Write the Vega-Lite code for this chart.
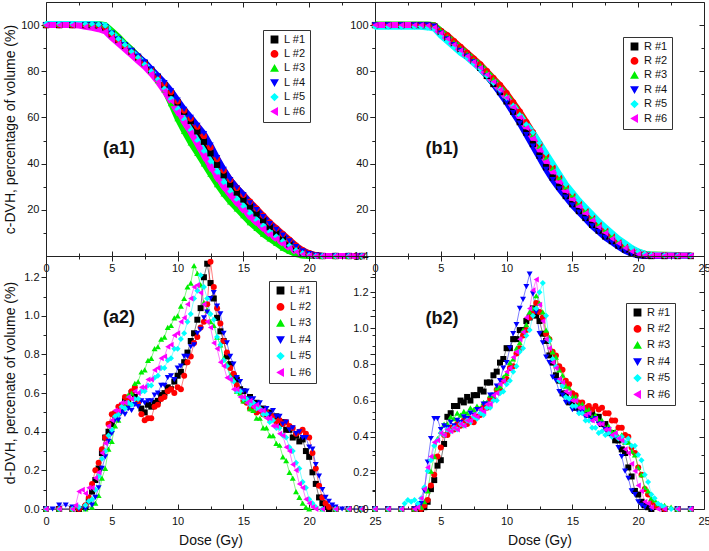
{
"$schema": "https://vega.github.io/schema/vega-lite/v6.json",
"padding": {"left": 3, "top": 1, "right": 0, "bottom": 2},
"background": "white",
"config": {
  "view": {"stroke": "#222", "strokeWidth": 1},
  "axis": {"domain": false, "grid": false, "tickColor": "#222", "tickWidth": 1, "labelFont": "Liberation Sans", "labelFontSize": 11, "labelColor": "#111", "titleFont": "Liberation Sans", "titleFontSize": 14, "titleFontWeight": "normal", "titleColor": "#111", "labelFlush": false, "labelOverlap": false, "labelBound": false},
  "legend": {"orient": "none", "symbolSize": 40, "symbolOpacity": 1, "labelOffset": 4, "symbolOffset": 2, "rowPadding": 3.4, "padding": 4, "strokeColor": "#333", "fillColor": "white", "labelFontSize": 11, "labelFont": "Liberation Sans", "labelColor": "#111"},
  "text": {"font": "Liberation Sans"}
},
"datasets": {
"a1": [
{"s":"L #1","x":0,"y":100},{"s":"L #1","x":1,"y":100},{"s":"L #1","x":2,"y":100},{"s":"L #1","x":3,"y":100},{"s":"L #1","x":3.5,"y":100},{"s":"L #1","x":4,"y":99.8},{"s":"L #1","x":4.5,"y":99},{"s":"L #1","x":5,"y":96},{"s":"L #1","x":5.5,"y":93.5},{"s":"L #1","x":6,"y":91},{"s":"L #1","x":6.5,"y":88.5},{"s":"L #1","x":7,"y":86},{"s":"L #1","x":7.5,"y":83.5},{"s":"L #1","x":8,"y":80.5},{"s":"L #1","x":8.5,"y":77.5},{"s":"L #1","x":9,"y":74},{"s":"L #1","x":9.5,"y":70.5},{"s":"L #1","x":10,"y":66.5},{"s":"L #1","x":10.5,"y":62.5},{"s":"L #1","x":11,"y":58.5},{"s":"L #1","x":11.5,"y":54},{"s":"L #1","x":12,"y":49.5},{"s":"L #1","x":12.5,"y":44.5},{"s":"L #1","x":13,"y":39.5},{"s":"L #1","x":13.5,"y":35},{"s":"L #1","x":14,"y":31},{"s":"L #1","x":14.5,"y":27.5},{"s":"L #1","x":15,"y":24.5},{"s":"L #1","x":15.5,"y":21.5},{"s":"L #1","x":16,"y":18.5},{"s":"L #1","x":16.5,"y":15.5},{"s":"L #1","x":17,"y":12.5},{"s":"L #1","x":17.5,"y":10},{"s":"L #1","x":18,"y":7.5},{"s":"L #1","x":18.5,"y":5},{"s":"L #1","x":19,"y":3},{"s":"L #1","x":19.5,"y":1.5},{"s":"L #1","x":20,"y":0.6},{"s":"L #1","x":20.5,"y":0.2},{"s":"L #1","x":21,"y":0},{"s":"L #1","x":22,"y":0},{"s":"L #1","x":23,"y":0},{"s":"L #1","x":24,"y":0},
{"s":"L #2","x":0,"y":100},{"s":"L #2","x":1,"y":100},{"s":"L #2","x":2,"y":100},{"s":"L #2","x":3,"y":100},{"s":"L #2","x":3.5,"y":100},{"s":"L #2","x":4,"y":99.8},{"s":"L #2","x":4.5,"y":99},{"s":"L #2","x":5,"y":96},{"s":"L #2","x":5.5,"y":93.5},{"s":"L #2","x":6,"y":91},{"s":"L #2","x":6.5,"y":88.5},{"s":"L #2","x":7,"y":86},{"s":"L #2","x":7.5,"y":83.5},{"s":"L #2","x":8,"y":80.5},{"s":"L #2","x":8.5,"y":77.5},{"s":"L #2","x":9,"y":74.5},{"s":"L #2","x":9.5,"y":71},{"s":"L #2","x":10,"y":67},{"s":"L #2","x":10.5,"y":63},{"s":"L #2","x":11,"y":59.5},{"s":"L #2","x":11.5,"y":56},{"s":"L #2","x":12,"y":52},{"s":"L #2","x":12.5,"y":47},{"s":"L #2","x":13,"y":42},{"s":"L #2","x":13.5,"y":37},{"s":"L #2","x":14,"y":33},{"s":"L #2","x":14.5,"y":29.5},{"s":"L #2","x":15,"y":26.5},{"s":"L #2","x":15.5,"y":23.5},{"s":"L #2","x":16,"y":20.5},{"s":"L #2","x":16.5,"y":17.5},{"s":"L #2","x":17,"y":14.5},{"s":"L #2","x":17.5,"y":12},{"s":"L #2","x":18,"y":9.5},{"s":"L #2","x":18.5,"y":7},{"s":"L #2","x":19,"y":4.5},{"s":"L #2","x":19.5,"y":2.5},{"s":"L #2","x":20,"y":1.2},{"s":"L #2","x":20.5,"y":0.4},{"s":"L #2","x":21,"y":0},{"s":"L #2","x":22,"y":0},{"s":"L #2","x":23,"y":0},{"s":"L #2","x":24,"y":0},
{"s":"L #3","x":0,"y":100.5},{"s":"L #3","x":1,"y":100.5},{"s":"L #3","x":2,"y":100.5},{"s":"L #3","x":3,"y":100.5},{"s":"L #3","x":3.5,"y":100.5},{"s":"L #3","x":4,"y":100.5},{"s":"L #3","x":4.5,"y":100},{"s":"L #3","x":5,"y":97.5},{"s":"L #3","x":5.5,"y":95},{"s":"L #3","x":6,"y":92},{"s":"L #3","x":6.5,"y":89.5},{"s":"L #3","x":7,"y":86.5},{"s":"L #3","x":7.5,"y":83.5},{"s":"L #3","x":8,"y":80},{"s":"L #3","x":8.5,"y":76},{"s":"L #3","x":9,"y":72},{"s":"L #3","x":9.5,"y":66},{"s":"L #3","x":10,"y":59.5},{"s":"L #3","x":10.5,"y":54},{"s":"L #3","x":11,"y":49},{"s":"L #3","x":11.5,"y":44.5},{"s":"L #3","x":12,"y":40},{"s":"L #3","x":12.5,"y":35.5},{"s":"L #3","x":13,"y":31},{"s":"L #3","x":13.5,"y":27},{"s":"L #3","x":14,"y":23.5},{"s":"L #3","x":14.5,"y":20.5},{"s":"L #3","x":15,"y":17.5},{"s":"L #3","x":15.5,"y":14.5},{"s":"L #3","x":16,"y":12},{"s":"L #3","x":16.5,"y":9.5},{"s":"L #3","x":17,"y":7.5},{"s":"L #3","x":17.5,"y":5.5},{"s":"L #3","x":18,"y":3.5},{"s":"L #3","x":18.5,"y":2},{"s":"L #3","x":19,"y":0.8},{"s":"L #3","x":19.5,"y":0.2},{"s":"L #3","x":20,"y":0},{"s":"L #3","x":21,"y":0},{"s":"L #3","x":22,"y":0},{"s":"L #3","x":23,"y":0},{"s":"L #3","x":24,"y":0},
{"s":"L #4","x":0,"y":100},{"s":"L #4","x":1,"y":100},{"s":"L #4","x":2,"y":100},{"s":"L #4","x":3,"y":100},{"s":"L #4","x":3.5,"y":100},{"s":"L #4","x":4,"y":99.8},{"s":"L #4","x":4.5,"y":99.3},{"s":"L #4","x":5,"y":96.5},{"s":"L #4","x":5.5,"y":94},{"s":"L #4","x":6,"y":91.5},{"s":"L #4","x":6.5,"y":89},{"s":"L #4","x":7,"y":86.5},{"s":"L #4","x":7.5,"y":84},{"s":"L #4","x":8,"y":81},{"s":"L #4","x":8.5,"y":78},{"s":"L #4","x":9,"y":75},{"s":"L #4","x":9.5,"y":71.5},{"s":"L #4","x":10,"y":67.5},{"s":"L #4","x":10.5,"y":63.5},{"s":"L #4","x":11,"y":60},{"s":"L #4","x":11.5,"y":56.5},{"s":"L #4","x":12,"y":53},{"s":"L #4","x":12.5,"y":48},{"s":"L #4","x":13,"y":42.5},{"s":"L #4","x":13.5,"y":37.5},{"s":"L #4","x":14,"y":33},{"s":"L #4","x":14.5,"y":29.5},{"s":"L #4","x":15,"y":26.5},{"s":"L #4","x":15.5,"y":23},{"s":"L #4","x":16,"y":20},{"s":"L #4","x":16.5,"y":17},{"s":"L #4","x":17,"y":14},{"s":"L #4","x":17.5,"y":11.5},{"s":"L #4","x":18,"y":9},{"s":"L #4","x":18.5,"y":6.5},{"s":"L #4","x":19,"y":4},{"s":"L #4","x":19.5,"y":2.2},{"s":"L #4","x":20,"y":1},{"s":"L #4","x":20.5,"y":0.3},{"s":"L #4","x":21,"y":0},{"s":"L #4","x":22,"y":0},{"s":"L #4","x":23,"y":0},{"s":"L #4","x":24,"y":0},
{"s":"L #5","x":0,"y":100.5},{"s":"L #5","x":1,"y":100.5},{"s":"L #5","x":2,"y":100.5},{"s":"L #5","x":3,"y":100.5},{"s":"L #5","x":3.5,"y":100.5},{"s":"L #5","x":4,"y":100.3},{"s":"L #5","x":4.5,"y":99.8},{"s":"L #5","x":5,"y":96.5},{"s":"L #5","x":5.5,"y":94},{"s":"L #5","x":6,"y":91.5},{"s":"L #5","x":6.5,"y":88.5},{"s":"L #5","x":7,"y":86},{"s":"L #5","x":7.5,"y":83},{"s":"L #5","x":8,"y":80},{"s":"L #5","x":8.5,"y":76.5},{"s":"L #5","x":9,"y":72.5},{"s":"L #5","x":9.5,"y":68},{"s":"L #5","x":10,"y":63.5},{"s":"L #5","x":10.5,"y":59},{"s":"L #5","x":11,"y":54.5},{"s":"L #5","x":11.5,"y":50},{"s":"L #5","x":12,"y":45.5},{"s":"L #5","x":12.5,"y":41},{"s":"L #5","x":13,"y":36.5},{"s":"L #5","x":13.5,"y":32},{"s":"L #5","x":14,"y":28},{"s":"L #5","x":14.5,"y":24.5},{"s":"L #5","x":15,"y":21.5},{"s":"L #5","x":15.5,"y":18.5},{"s":"L #5","x":16,"y":15.5},{"s":"L #5","x":16.5,"y":13},{"s":"L #5","x":17,"y":10.5},{"s":"L #5","x":17.5,"y":8.5},{"s":"L #5","x":18,"y":6.5},{"s":"L #5","x":18.5,"y":4.5},{"s":"L #5","x":19,"y":2.5},{"s":"L #5","x":19.5,"y":1.2},{"s":"L #5","x":20,"y":0.4},{"s":"L #5","x":20.5,"y":0},{"s":"L #5","x":21,"y":0},{"s":"L #5","x":22,"y":0},{"s":"L #5","x":23,"y":0},{"s":"L #5","x":24,"y":0},
{"s":"L #6","x":0,"y":100},{"s":"L #6","x":1,"y":100},{"s":"L #6","x":2,"y":100},{"s":"L #6","x":2.5,"y":99.8},{"s":"L #6","x":3,"y":99.3},{"s":"L #6","x":3.5,"y":98.8},{"s":"L #6","x":4,"y":98.2},{"s":"L #6","x":4.5,"y":97.3},{"s":"L #6","x":5,"y":94.5},{"s":"L #6","x":5.5,"y":92},{"s":"L #6","x":6,"y":89.5},{"s":"L #6","x":6.5,"y":87},{"s":"L #6","x":7,"y":84.5},{"s":"L #6","x":7.5,"y":82},{"s":"L #6","x":8,"y":79},{"s":"L #6","x":8.5,"y":75.5},{"s":"L #6","x":9,"y":71.5},{"s":"L #6","x":9.5,"y":67},{"s":"L #6","x":10,"y":62.5},{"s":"L #6","x":10.5,"y":58},{"s":"L #6","x":11,"y":53.5},{"s":"L #6","x":11.5,"y":48.5},{"s":"L #6","x":12,"y":43.5},{"s":"L #6","x":12.5,"y":38.5},{"s":"L #6","x":13,"y":34},{"s":"L #6","x":13.5,"y":30},{"s":"L #6","x":14,"y":26.5},{"s":"L #6","x":14.5,"y":23},{"s":"L #6","x":15,"y":20},{"s":"L #6","x":15.5,"y":17},{"s":"L #6","x":16,"y":14.5},{"s":"L #6","x":16.5,"y":12},{"s":"L #6","x":17,"y":9.5},{"s":"L #6","x":17.5,"y":7.5},{"s":"L #6","x":18,"y":5.5},{"s":"L #6","x":18.5,"y":3.5},{"s":"L #6","x":19,"y":1.8},{"s":"L #6","x":19.5,"y":0.8},{"s":"L #6","x":20,"y":0.3},{"s":"L #6","x":20.5,"y":0},{"s":"L #6","x":21,"y":0},{"s":"L #6","x":22,"y":0},{"s":"L #6","x":23,"y":0},{"s":"L #6","x":24,"y":0}
],
"b1": [
{"s":"R #1","x":0,"y":100},{"s":"R #1","x":1,"y":100},{"s":"R #1","x":2,"y":100},{"s":"R #1","x":3,"y":100},{"s":"R #1","x":3.5,"y":100},{"s":"R #1","x":4,"y":100},{"s":"R #1","x":4.5,"y":99.5},{"s":"R #1","x":5,"y":97},{"s":"R #1","x":5.5,"y":94.5},{"s":"R #1","x":6,"y":92},{"s":"R #1","x":6.5,"y":89.5},{"s":"R #1","x":7,"y":87},{"s":"R #1","x":7.5,"y":84.5},{"s":"R #1","x":8,"y":81.5},{"s":"R #1","x":8.5,"y":78},{"s":"R #1","x":9,"y":74.5},{"s":"R #1","x":9.5,"y":71},{"s":"R #1","x":10,"y":67},{"s":"R #1","x":10.5,"y":62.5},{"s":"R #1","x":11,"y":58},{"s":"R #1","x":11.5,"y":53.5},{"s":"R #1","x":12,"y":48.5},{"s":"R #1","x":12.5,"y":43.5},{"s":"R #1","x":13,"y":38.5},{"s":"R #1","x":13.5,"y":34},{"s":"R #1","x":14,"y":30},{"s":"R #1","x":14.5,"y":26},{"s":"R #1","x":15,"y":22.5},{"s":"R #1","x":15.5,"y":19.5},{"s":"R #1","x":16,"y":16.5},{"s":"R #1","x":16.5,"y":13.5},{"s":"R #1","x":17,"y":11},{"s":"R #1","x":17.5,"y":8.5},{"s":"R #1","x":18,"y":6.5},{"s":"R #1","x":18.5,"y":4.5},{"s":"R #1","x":19,"y":2.8},{"s":"R #1","x":19.5,"y":1.5},{"s":"R #1","x":20,"y":0.6},{"s":"R #1","x":20.5,"y":0.2},{"s":"R #1","x":21,"y":0},{"s":"R #1","x":22,"y":0},{"s":"R #1","x":23,"y":0},{"s":"R #1","x":24,"y":0},
{"s":"R #2","x":0,"y":100},{"s":"R #2","x":1,"y":100},{"s":"R #2","x":2,"y":100},{"s":"R #2","x":3,"y":100},{"s":"R #2","x":3.5,"y":100},{"s":"R #2","x":4,"y":100},{"s":"R #2","x":4.5,"y":99.8},{"s":"R #2","x":5,"y":97.5},{"s":"R #2","x":5.5,"y":95.5},{"s":"R #2","x":6,"y":93},{"s":"R #2","x":6.5,"y":90.5},{"s":"R #2","x":7,"y":88},{"s":"R #2","x":7.5,"y":85.5},{"s":"R #2","x":8,"y":83},{"s":"R #2","x":8.5,"y":80},{"s":"R #2","x":9,"y":77},{"s":"R #2","x":9.5,"y":74},{"s":"R #2","x":10,"y":70.5},{"s":"R #2","x":10.5,"y":66.5},{"s":"R #2","x":11,"y":62.5},{"s":"R #2","x":11.5,"y":58},{"s":"R #2","x":12,"y":53.5},{"s":"R #2","x":12.5,"y":48.5},{"s":"R #2","x":13,"y":43.5},{"s":"R #2","x":13.5,"y":38.5},{"s":"R #2","x":14,"y":34},{"s":"R #2","x":14.5,"y":30},{"s":"R #2","x":15,"y":26.5},{"s":"R #2","x":15.5,"y":23},{"s":"R #2","x":16,"y":20},{"s":"R #2","x":16.5,"y":17},{"s":"R #2","x":17,"y":14},{"s":"R #2","x":17.5,"y":11.5},{"s":"R #2","x":18,"y":9},{"s":"R #2","x":18.5,"y":6.5},{"s":"R #2","x":19,"y":4.5},{"s":"R #2","x":19.5,"y":2.8},{"s":"R #2","x":20,"y":1.5},{"s":"R #2","x":20.5,"y":0.8},{"s":"R #2","x":21,"y":0.4},{"s":"R #2","x":22,"y":0.3},{"s":"R #2","x":23,"y":0.2},{"s":"R #2","x":24,"y":0.2},
{"s":"R #3","x":0,"y":100.3},{"s":"R #3","x":1,"y":100.3},{"s":"R #3","x":2,"y":100.3},{"s":"R #3","x":3,"y":100.3},{"s":"R #3","x":3.5,"y":100.3},{"s":"R #3","x":4,"y":100.3},{"s":"R #3","x":4.5,"y":100},{"s":"R #3","x":5,"y":97.5},{"s":"R #3","x":5.5,"y":95},{"s":"R #3","x":6,"y":92.5},{"s":"R #3","x":6.5,"y":90},{"s":"R #3","x":7,"y":87.5},{"s":"R #3","x":7.5,"y":85},{"s":"R #3","x":8,"y":82.5},{"s":"R #3","x":8.5,"y":79.5},{"s":"R #3","x":9,"y":76.5},{"s":"R #3","x":9.5,"y":73},{"s":"R #3","x":10,"y":69.5},{"s":"R #3","x":10.5,"y":65.5},{"s":"R #3","x":11,"y":61.5},{"s":"R #3","x":11.5,"y":57},{"s":"R #3","x":12,"y":52.5},{"s":"R #3","x":12.5,"y":47.5},{"s":"R #3","x":13,"y":42.5},{"s":"R #3","x":13.5,"y":38},{"s":"R #3","x":14,"y":34},{"s":"R #3","x":14.5,"y":30},{"s":"R #3","x":15,"y":26.5},{"s":"R #3","x":15.5,"y":23},{"s":"R #3","x":16,"y":20},{"s":"R #3","x":16.5,"y":17},{"s":"R #3","x":17,"y":14},{"s":"R #3","x":17.5,"y":11.5},{"s":"R #3","x":18,"y":9},{"s":"R #3","x":18.5,"y":6.5},{"s":"R #3","x":19,"y":4.5},{"s":"R #3","x":19.5,"y":3},{"s":"R #3","x":20,"y":1.8},{"s":"R #3","x":20.5,"y":1},{"s":"R #3","x":21,"y":0.6},{"s":"R #3","x":22,"y":0.5},{"s":"R #3","x":23,"y":0.4},{"s":"R #3","x":24,"y":0.3},
{"s":"R #4","x":0,"y":100},{"s":"R #4","x":1,"y":100},{"s":"R #4","x":2,"y":100},{"s":"R #4","x":3,"y":100},{"s":"R #4","x":3.5,"y":100},{"s":"R #4","x":4,"y":100},{"s":"R #4","x":4.5,"y":99.5},{"s":"R #4","x":5,"y":96.5},{"s":"R #4","x":5.5,"y":94},{"s":"R #4","x":6,"y":91.5},{"s":"R #4","x":6.5,"y":89},{"s":"R #4","x":7,"y":86.5},{"s":"R #4","x":7.5,"y":84},{"s":"R #4","x":8,"y":81},{"s":"R #4","x":8.5,"y":78},{"s":"R #4","x":9,"y":74.5},{"s":"R #4","x":9.5,"y":70.5},{"s":"R #4","x":10,"y":66.5},{"s":"R #4","x":10.5,"y":62},{"s":"R #4","x":11,"y":57.5},{"s":"R #4","x":11.5,"y":52.5},{"s":"R #4","x":12,"y":47.5},{"s":"R #4","x":12.5,"y":42.5},{"s":"R #4","x":13,"y":37.5},{"s":"R #4","x":13.5,"y":33},{"s":"R #4","x":14,"y":29},{"s":"R #4","x":14.5,"y":25.5},{"s":"R #4","x":15,"y":22},{"s":"R #4","x":15.5,"y":19},{"s":"R #4","x":16,"y":16},{"s":"R #4","x":16.5,"y":13},{"s":"R #4","x":17,"y":10.5},{"s":"R #4","x":17.5,"y":8},{"s":"R #4","x":18,"y":6},{"s":"R #4","x":18.5,"y":4},{"s":"R #4","x":19,"y":2.2},{"s":"R #4","x":19.5,"y":1},{"s":"R #4","x":20,"y":0.2},{"s":"R #4","x":20.5,"y":0},{"s":"R #4","x":21,"y":0},{"s":"R #4","x":22,"y":0},{"s":"R #4","x":23,"y":0},{"s":"R #4","x":24,"y":0},
{"s":"R #5","x":0,"y":99.3},{"s":"R #5","x":1,"y":99.3},{"s":"R #5","x":2,"y":99.3},{"s":"R #5","x":3,"y":99.3},{"s":"R #5","x":3.5,"y":99.3},{"s":"R #5","x":4,"y":99},{"s":"R #5","x":4.5,"y":98.5},{"s":"R #5","x":5,"y":95.5},{"s":"R #5","x":5.5,"y":93},{"s":"R #5","x":6,"y":90.5},{"s":"R #5","x":6.5,"y":88},{"s":"R #5","x":7,"y":86},{"s":"R #5","x":7.5,"y":83.5},{"s":"R #5","x":8,"y":81},{"s":"R #5","x":8.5,"y":78},{"s":"R #5","x":9,"y":75},{"s":"R #5","x":9.5,"y":72},{"s":"R #5","x":10,"y":68.5},{"s":"R #5","x":10.5,"y":65},{"s":"R #5","x":11,"y":61},{"s":"R #5","x":11.5,"y":57},{"s":"R #5","x":12,"y":53.5},{"s":"R #5","x":12.5,"y":49},{"s":"R #5","x":13,"y":44.5},{"s":"R #5","x":13.5,"y":40},{"s":"R #5","x":14,"y":35.5},{"s":"R #5","x":14.5,"y":31},{"s":"R #5","x":15,"y":27.5},{"s":"R #5","x":15.5,"y":24},{"s":"R #5","x":16,"y":21},{"s":"R #5","x":16.5,"y":18},{"s":"R #5","x":17,"y":15},{"s":"R #5","x":17.5,"y":12.5},{"s":"R #5","x":18,"y":10},{"s":"R #5","x":18.5,"y":7.5},{"s":"R #5","x":19,"y":5.5},{"s":"R #5","x":19.5,"y":3.5},{"s":"R #5","x":20,"y":2},{"s":"R #5","x":20.5,"y":1},{"s":"R #5","x":21,"y":0.5},{"s":"R #5","x":22,"y":0.3},{"s":"R #5","x":23,"y":0.2},{"s":"R #5","x":24,"y":0.2},
{"s":"R #6","x":0,"y":100},{"s":"R #6","x":1,"y":100},{"s":"R #6","x":2,"y":100},{"s":"R #6","x":3,"y":100},{"s":"R #6","x":3.5,"y":100},{"s":"R #6","x":4,"y":99.8},{"s":"R #6","x":4.5,"y":99},{"s":"R #6","x":5,"y":96.5},{"s":"R #6","x":5.5,"y":94},{"s":"R #6","x":6,"y":91.5},{"s":"R #6","x":6.5,"y":89},{"s":"R #6","x":7,"y":86.5},{"s":"R #6","x":7.5,"y":84},{"s":"R #6","x":8,"y":81.5},{"s":"R #6","x":8.5,"y":78.5},{"s":"R #6","x":9,"y":75.5},{"s":"R #6","x":9.5,"y":72},{"s":"R #6","x":10,"y":68.5},{"s":"R #6","x":10.5,"y":64.5},{"s":"R #6","x":11,"y":60},{"s":"R #6","x":11.5,"y":55.5},{"s":"R #6","x":12,"y":51},{"s":"R #6","x":12.5,"y":46},{"s":"R #6","x":13,"y":41},{"s":"R #6","x":13.5,"y":36.5},{"s":"R #6","x":14,"y":32},{"s":"R #6","x":14.5,"y":28},{"s":"R #6","x":15,"y":24.5},{"s":"R #6","x":15.5,"y":21.5},{"s":"R #6","x":16,"y":18.5},{"s":"R #6","x":16.5,"y":15.5},{"s":"R #6","x":17,"y":12.5},{"s":"R #6","x":17.5,"y":10},{"s":"R #6","x":18,"y":7.5},{"s":"R #6","x":18.5,"y":5.5},{"s":"R #6","x":19,"y":3.5},{"s":"R #6","x":19.5,"y":2},{"s":"R #6","x":20,"y":0.8},{"s":"R #6","x":20.5,"y":0.3},{"s":"R #6","x":21,"y":0.2},{"s":"R #6","x":22,"y":0.2},{"s":"R #6","x":23,"y":0.2},{"s":"R #6","x":24,"y":0.2}
],
"a2": [
{"s":"L #1","x":0,"y":0},{"s":"L #1","x":1,"y":0},{"s":"L #1","x":2,"y":0},{"s":"L #1","x":2.5,"y":0},{"s":"L #1","x":3,"y":0.01},{"s":"L #1","x":3.25,"y":0.04},{"s":"L #1","x":3.5,"y":0.09},{"s":"L #1","x":3.75,"y":0.15},{"s":"L #1","x":4,"y":0.21},{"s":"L #1","x":4.25,"y":0.29},{"s":"L #1","x":4.5,"y":0.37},{"s":"L #1","x":4.75,"y":0.4},{"s":"L #1","x":5,"y":0.44},{"s":"L #1","x":5.25,"y":0.49},{"s":"L #1","x":5.5,"y":0.5},{"s":"L #1","x":5.75,"y":0.52},{"s":"L #1","x":6,"y":0.56},{"s":"L #1","x":6.25,"y":0.55},{"s":"L #1","x":6.5,"y":0.6},{"s":"L #1","x":6.75,"y":0.58},{"s":"L #1","x":7,"y":0.56},{"s":"L #1","x":7.25,"y":0.52},{"s":"L #1","x":7.5,"y":0.5},{"s":"L #1","x":7.75,"y":0.54},{"s":"L #1","x":8,"y":0.53},{"s":"L #1","x":8.25,"y":0.55},{"s":"L #1","x":8.5,"y":0.56},{"s":"L #1","x":8.75,"y":0.59},{"s":"L #1","x":9,"y":0.6},{"s":"L #1","x":9.25,"y":0.63},{"s":"L #1","x":9.5,"y":0.62},{"s":"L #1","x":9.75,"y":0.66},{"s":"L #1","x":10,"y":0.69},{"s":"L #1","x":10.25,"y":0.71},{"s":"L #1","x":10.5,"y":0.76},{"s":"L #1","x":10.75,"y":0.81},{"s":"L #1","x":11,"y":0.87},{"s":"L #1","x":11.25,"y":0.91},{"s":"L #1","x":11.5,"y":0.98},{"s":"L #1","x":11.75,"y":1.04},{"s":"L #1","x":12,"y":1.2},{"s":"L #1","x":12.25,"y":1.27},{"s":"L #1","x":12.5,"y":1.17},{"s":"L #1","x":12.75,"y":1.09},{"s":"L #1","x":13,"y":0.99},{"s":"L #1","x":13.25,"y":0.92},{"s":"L #1","x":13.5,"y":0.87},{"s":"L #1","x":13.75,"y":0.79},{"s":"L #1","x":14,"y":0.75},{"s":"L #1","x":14.25,"y":0.69},{"s":"L #1","x":14.5,"y":0.67},{"s":"L #1","x":14.75,"y":0.62},{"s":"L #1","x":15,"y":0.61},{"s":"L #1","x":15.25,"y":0.57},{"s":"L #1","x":15.5,"y":0.58},{"s":"L #1","x":15.75,"y":0.54},{"s":"L #1","x":16,"y":0.55},{"s":"L #1","x":16.25,"y":0.51},{"s":"L #1","x":16.5,"y":0.52},{"s":"L #1","x":16.75,"y":0.49},{"s":"L #1","x":17,"y":0.5},{"s":"L #1","x":17.25,"y":0.47},{"s":"L #1","x":17.5,"y":0.48},{"s":"L #1","x":17.75,"y":0.44},{"s":"L #1","x":18,"y":0.45},{"s":"L #1","x":18.25,"y":0.41},{"s":"L #1","x":18.5,"y":0.41},{"s":"L #1","x":18.75,"y":0.37},{"s":"L #1","x":19,"y":0.38},{"s":"L #1","x":19.25,"y":0.35},{"s":"L #1","x":19.5,"y":0.36},{"s":"L #1","x":19.75,"y":0.3},{"s":"L #1","x":20,"y":0.27},{"s":"L #1","x":20.25,"y":0.19},{"s":"L #1","x":20.5,"y":0.13},{"s":"L #1","x":20.75,"y":0.06},{"s":"L #1","x":21,"y":0.03},{"s":"L #1","x":21.25,"y":0.01},{"s":"L #1","x":21.5,"y":0},{"s":"L #1","x":22,"y":0},{"s":"L #1","x":23,"y":0},{"s":"L #1","x":24,"y":0},
{"s":"L #2","x":0,"y":0},{"s":"L #2","x":1,"y":0},{"s":"L #2","x":2,"y":0},{"s":"L #2","x":2.5,"y":0},{"s":"L #2","x":3,"y":0.02},{"s":"L #2","x":3.25,"y":0.06},{"s":"L #2","x":3.5,"y":0.13},{"s":"L #2","x":3.75,"y":0.2},{"s":"L #2","x":4,"y":0.24},{"s":"L #2","x":4.25,"y":0.31},{"s":"L #2","x":4.5,"y":0.37},{"s":"L #2","x":4.75,"y":0.44},{"s":"L #2","x":5,"y":0.49},{"s":"L #2","x":5.25,"y":0.5},{"s":"L #2","x":5.5,"y":0.53},{"s":"L #2","x":5.75,"y":0.54},{"s":"L #2","x":6,"y":0.58},{"s":"L #2","x":6.25,"y":0.57},{"s":"L #2","x":6.5,"y":0.61},{"s":"L #2","x":6.75,"y":0.63},{"s":"L #2","x":7,"y":0.55},{"s":"L #2","x":7.25,"y":0.49},{"s":"L #2","x":7.5,"y":0.46},{"s":"L #2","x":7.75,"y":0.47},{"s":"L #2","x":8,"y":0.47},{"s":"L #2","x":8.25,"y":0.53},{"s":"L #2","x":8.5,"y":0.54},{"s":"L #2","x":8.75,"y":0.57},{"s":"L #2","x":9,"y":0.58},{"s":"L #2","x":9.25,"y":0.61},{"s":"L #2","x":9.5,"y":0.62},{"s":"L #2","x":9.75,"y":0.6},{"s":"L #2","x":10,"y":0.63},{"s":"L #2","x":10.25,"y":0.62},{"s":"L #2","x":10.5,"y":0.69},{"s":"L #2","x":10.75,"y":0.76},{"s":"L #2","x":11,"y":0.79},{"s":"L #2","x":11.25,"y":0.86},{"s":"L #2","x":11.5,"y":0.89},{"s":"L #2","x":11.75,"y":0.94},{"s":"L #2","x":12,"y":0.97},{"s":"L #2","x":12.25,"y":1.06},{"s":"L #2","x":12.5,"y":1.28},{"s":"L #2","x":12.75,"y":1.15},{"s":"L #2","x":13,"y":1.04},{"s":"L #2","x":13.25,"y":0.96},{"s":"L #2","x":13.5,"y":0.87},{"s":"L #2","x":13.75,"y":0.81},{"s":"L #2","x":14,"y":0.73},{"s":"L #2","x":14.25,"y":0.7},{"s":"L #2","x":14.5,"y":0.64},{"s":"L #2","x":14.75,"y":0.61},{"s":"L #2","x":15,"y":0.56},{"s":"L #2","x":15.25,"y":0.55},{"s":"L #2","x":15.5,"y":0.52},{"s":"L #2","x":15.75,"y":0.53},{"s":"L #2","x":16,"y":0.5},{"s":"L #2","x":16.25,"y":0.51},{"s":"L #2","x":16.5,"y":0.49},{"s":"L #2","x":16.75,"y":0.5},{"s":"L #2","x":17,"y":0.47},{"s":"L #2","x":17.25,"y":0.48},{"s":"L #2","x":17.5,"y":0.45},{"s":"L #2","x":17.75,"y":0.46},{"s":"L #2","x":18,"y":0.44},{"s":"L #2","x":18.25,"y":0.45},{"s":"L #2","x":18.5,"y":0.43},{"s":"L #2","x":18.75,"y":0.42},{"s":"L #2","x":19,"y":0.39},{"s":"L #2","x":19.25,"y":0.4},{"s":"L #2","x":19.5,"y":0.41},{"s":"L #2","x":19.75,"y":0.39},{"s":"L #2","x":20,"y":0.37},{"s":"L #2","x":20.25,"y":0.29},{"s":"L #2","x":20.5,"y":0.21},{"s":"L #2","x":20.75,"y":0.12},{"s":"L #2","x":21,"y":0.06},{"s":"L #2","x":21.25,"y":0.03},{"s":"L #2","x":21.5,"y":0.01},{"s":"L #2","x":22,"y":0},{"s":"L #2","x":23,"y":0},{"s":"L #2","x":24,"y":0},
{"s":"L #3","x":0,"y":0},{"s":"L #3","x":1,"y":0},{"s":"L #3","x":2,"y":0},{"s":"L #3","x":3,"y":0},{"s":"L #3","x":3.5,"y":0.01},{"s":"L #3","x":3.75,"y":0.03},{"s":"L #3","x":4,"y":0.07},{"s":"L #3","x":4.25,"y":0.16},{"s":"L #3","x":4.5,"y":0.21},{"s":"L #3","x":4.75,"y":0.31},{"s":"L #3","x":5,"y":0.35},{"s":"L #3","x":5.25,"y":0.43},{"s":"L #3","x":5.5,"y":0.46},{"s":"L #3","x":5.75,"y":0.53},{"s":"L #3","x":6,"y":0.55},{"s":"L #3","x":6.25,"y":0.59},{"s":"L #3","x":6.5,"y":0.6},{"s":"L #3","x":6.75,"y":0.65},{"s":"L #3","x":7,"y":0.66},{"s":"L #3","x":7.25,"y":0.71},{"s":"L #3","x":7.5,"y":0.72},{"s":"L #3","x":7.75,"y":0.77},{"s":"L #3","x":8,"y":0.78},{"s":"L #3","x":8.25,"y":0.83},{"s":"L #3","x":8.5,"y":0.84},{"s":"L #3","x":8.75,"y":0.88},{"s":"L #3","x":9,"y":0.89},{"s":"L #3","x":9.25,"y":0.94},{"s":"L #3","x":9.5,"y":0.95},{"s":"L #3","x":9.75,"y":0.99},{"s":"L #3","x":10,"y":1.0},{"s":"L #3","x":10.25,"y":1.05},{"s":"L #3","x":10.5,"y":1.09},{"s":"L #3","x":10.75,"y":1.15},{"s":"L #3","x":11,"y":1.17},{"s":"L #3","x":11.25,"y":1.26},{"s":"L #3","x":11.5,"y":1.22},{"s":"L #3","x":11.75,"y":1.16},{"s":"L #3","x":12,"y":1.07},{"s":"L #3","x":12.25,"y":1.03},{"s":"L #3","x":12.5,"y":0.97},{"s":"L #3","x":12.75,"y":0.95},{"s":"L #3","x":13,"y":0.89},{"s":"L #3","x":13.25,"y":0.85},{"s":"L #3","x":13.5,"y":0.78},{"s":"L #3","x":13.75,"y":0.75},{"s":"L #3","x":14,"y":0.69},{"s":"L #3","x":14.25,"y":0.67},{"s":"L #3","x":14.5,"y":0.61},{"s":"L #3","x":14.75,"y":0.6},{"s":"L #3","x":15,"y":0.56},{"s":"L #3","x":15.25,"y":0.56},{"s":"L #3","x":15.5,"y":0.52},{"s":"L #3","x":15.75,"y":0.51},{"s":"L #3","x":16,"y":0.47},{"s":"L #3","x":16.25,"y":0.47},{"s":"L #3","x":16.5,"y":0.42},{"s":"L #3","x":16.75,"y":0.42},{"s":"L #3","x":17,"y":0.38},{"s":"L #3","x":17.25,"y":0.38},{"s":"L #3","x":17.5,"y":0.34},{"s":"L #3","x":17.75,"y":0.33},{"s":"L #3","x":18,"y":0.27},{"s":"L #3","x":18.25,"y":0.25},{"s":"L #3","x":18.5,"y":0.19},{"s":"L #3","x":18.75,"y":0.16},{"s":"L #3","x":19,"y":0.09},{"s":"L #3","x":19.25,"y":0.06},{"s":"L #3","x":19.5,"y":0.03},{"s":"L #3","x":19.75,"y":0.01},{"s":"L #3","x":20,"y":0},{"s":"L #3","x":21,"y":0},{"s":"L #3","x":22,"y":0},{"s":"L #3","x":23,"y":0},{"s":"L #3","x":24,"y":0},
{"s":"L #4","x":0,"y":0},{"s":"L #4","x":0.5,"y":0},{"s":"L #4","x":1,"y":0.02},{"s":"L #4","x":1.5,"y":0.02},{"s":"L #4","x":2,"y":0.01},{"s":"L #4","x":2.5,"y":0},{"s":"L #4","x":3,"y":0},{"s":"L #4","x":3.5,"y":0.02},{"s":"L #4","x":3.75,"y":0.06},{"s":"L #4","x":4,"y":0.11},{"s":"L #4","x":4.25,"y":0.21},{"s":"L #4","x":4.5,"y":0.27},{"s":"L #4","x":4.75,"y":0.35},{"s":"L #4","x":5,"y":0.39},{"s":"L #4","x":5.25,"y":0.46},{"s":"L #4","x":5.5,"y":0.46},{"s":"L #4","x":5.75,"y":0.5},{"s":"L #4","x":6,"y":0.49},{"s":"L #4","x":6.25,"y":0.52},{"s":"L #4","x":6.5,"y":0.51},{"s":"L #4","x":6.75,"y":0.54},{"s":"L #4","x":7,"y":0.53},{"s":"L #4","x":7.25,"y":0.56},{"s":"L #4","x":7.5,"y":0.55},{"s":"L #4","x":7.75,"y":0.56},{"s":"L #4","x":8,"y":0.56},{"s":"L #4","x":8.25,"y":0.59},{"s":"L #4","x":8.5,"y":0.6},{"s":"L #4","x":8.75,"y":0.64},{"s":"L #4","x":9,"y":0.64},{"s":"L #4","x":9.25,"y":0.68},{"s":"L #4","x":9.5,"y":0.69},{"s":"L #4","x":9.75,"y":0.67},{"s":"L #4","x":10,"y":0.73},{"s":"L #4","x":10.25,"y":0.74},{"s":"L #4","x":10.5,"y":0.79},{"s":"L #4","x":10.75,"y":0.79},{"s":"L #4","x":11,"y":0.84},{"s":"L #4","x":11.25,"y":0.85},{"s":"L #4","x":11.5,"y":0.91},{"s":"L #4","x":11.75,"y":0.93},{"s":"L #4","x":12,"y":0.99},{"s":"L #4","x":12.25,"y":1.02},{"s":"L #4","x":12.5,"y":1.09},{"s":"L #4","x":12.75,"y":1.12},{"s":"L #4","x":13,"y":1.05},{"s":"L #4","x":13.25,"y":1.01},{"s":"L #4","x":13.5,"y":0.91},{"s":"L #4","x":13.75,"y":0.86},{"s":"L #4","x":14,"y":0.79},{"s":"L #4","x":14.25,"y":0.75},{"s":"L #4","x":14.5,"y":0.68},{"s":"L #4","x":14.75,"y":0.66},{"s":"L #4","x":15,"y":0.61},{"s":"L #4","x":15.25,"y":0.61},{"s":"L #4","x":15.5,"y":0.57},{"s":"L #4","x":15.75,"y":0.57},{"s":"L #4","x":16,"y":0.54},{"s":"L #4","x":16.25,"y":0.55},{"s":"L #4","x":16.5,"y":0.51},{"s":"L #4","x":16.75,"y":0.52},{"s":"L #4","x":17,"y":0.49},{"s":"L #4","x":17.25,"y":0.51},{"s":"L #4","x":17.5,"y":0.48},{"s":"L #4","x":17.75,"y":0.48},{"s":"L #4","x":18,"y":0.44},{"s":"L #4","x":18.25,"y":0.45},{"s":"L #4","x":18.5,"y":0.41},{"s":"L #4","x":18.75,"y":0.42},{"s":"L #4","x":19,"y":0.39},{"s":"L #4","x":19.25,"y":0.4},{"s":"L #4","x":19.5,"y":0.37},{"s":"L #4","x":19.75,"y":0.37},{"s":"L #4","x":20,"y":0.32},{"s":"L #4","x":20.25,"y":0.31},{"s":"L #4","x":20.5,"y":0.23},{"s":"L #4","x":20.75,"y":0.17},{"s":"L #4","x":21,"y":0.1},{"s":"L #4","x":21.25,"y":0.06},{"s":"L #4","x":21.5,"y":0.04},{"s":"L #4","x":21.75,"y":0.02},{"s":"L #4","x":22,"y":0.01},{"s":"L #4","x":22.5,"y":0},{"s":"L #4","x":23,"y":0},{"s":"L #4","x":24,"y":0},
{"s":"L #5","x":0,"y":0},{"s":"L #5","x":1,"y":0},{"s":"L #5","x":2,"y":0},{"s":"L #5","x":2.5,"y":0.01},{"s":"L #5","x":3,"y":0.02},{"s":"L #5","x":3.25,"y":0.04},{"s":"L #5","x":3.5,"y":0.05},{"s":"L #5","x":3.75,"y":0.1},{"s":"L #5","x":4,"y":0.17},{"s":"L #5","x":4.25,"y":0.26},{"s":"L #5","x":4.5,"y":0.3},{"s":"L #5","x":4.75,"y":0.38},{"s":"L #5","x":5,"y":0.41},{"s":"L #5","x":5.25,"y":0.48},{"s":"L #5","x":5.5,"y":0.49},{"s":"L #5","x":5.75,"y":0.53},{"s":"L #5","x":6,"y":0.52},{"s":"L #5","x":6.25,"y":0.55},{"s":"L #5","x":6.5,"y":0.54},{"s":"L #5","x":6.75,"y":0.57},{"s":"L #5","x":7,"y":0.57},{"s":"L #5","x":7.25,"y":0.61},{"s":"L #5","x":7.5,"y":0.61},{"s":"L #5","x":7.75,"y":0.64},{"s":"L #5","x":8,"y":0.64},{"s":"L #5","x":8.25,"y":0.68},{"s":"L #5","x":8.5,"y":0.69},{"s":"L #5","x":8.75,"y":0.73},{"s":"L #5","x":9,"y":0.73},{"s":"L #5","x":9.25,"y":0.77},{"s":"L #5","x":9.5,"y":0.78},{"s":"L #5","x":9.75,"y":0.83},{"s":"L #5","x":10,"y":0.83},{"s":"L #5","x":10.25,"y":0.88},{"s":"L #5","x":10.5,"y":0.91},{"s":"L #5","x":10.75,"y":0.97},{"s":"L #5","x":11,"y":1.01},{"s":"L #5","x":11.25,"y":1.09},{"s":"L #5","x":11.5,"y":1.13},{"s":"L #5","x":11.75,"y":1.21},{"s":"L #5","x":12,"y":1.15},{"s":"L #5","x":12.25,"y":1.09},{"s":"L #5","x":12.5,"y":1.01},{"s":"L #5","x":12.75,"y":0.98},{"s":"L #5","x":13,"y":0.89},{"s":"L #5","x":13.25,"y":0.85},{"s":"L #5","x":13.5,"y":0.77},{"s":"L #5","x":13.75,"y":0.74},{"s":"L #5","x":14,"y":0.68},{"s":"L #5","x":14.25,"y":0.66},{"s":"L #5","x":14.5,"y":0.61},{"s":"L #5","x":14.75,"y":0.61},{"s":"L #5","x":15,"y":0.57},{"s":"L #5","x":15.25,"y":0.57},{"s":"L #5","x":15.5,"y":0.54},{"s":"L #5","x":15.75,"y":0.55},{"s":"L #5","x":16,"y":0.52},{"s":"L #5","x":16.25,"y":0.52},{"s":"L #5","x":16.5,"y":0.49},{"s":"L #5","x":16.75,"y":0.49},{"s":"L #5","x":17,"y":0.45},{"s":"L #5","x":17.25,"y":0.46},{"s":"L #5","x":17.5,"y":0.42},{"s":"L #5","x":17.75,"y":0.42},{"s":"L #5","x":18,"y":0.38},{"s":"L #5","x":18.25,"y":0.37},{"s":"L #5","x":18.5,"y":0.32},{"s":"L #5","x":18.75,"y":0.3},{"s":"L #5","x":19,"y":0.24},{"s":"L #5","x":19.25,"y":0.21},{"s":"L #5","x":19.5,"y":0.14},{"s":"L #5","x":19.75,"y":0.11},{"s":"L #5","x":20,"y":0.05},{"s":"L #5","x":20.25,"y":0.03},{"s":"L #5","x":20.5,"y":0.01},{"s":"L #5","x":21,"y":0},{"s":"L #5","x":22,"y":0},{"s":"L #5","x":23,"y":0},{"s":"L #5","x":24,"y":0},
{"s":"L #6","x":0,"y":0},{"s":"L #6","x":1,"y":0},{"s":"L #6","x":2,"y":0},{"s":"L #6","x":2.25,"y":0.02},{"s":"L #6","x":2.5,"y":0.09},{"s":"L #6","x":2.75,"y":0.1},{"s":"L #6","x":3,"y":0.08},{"s":"L #6","x":3.25,"y":0.11},{"s":"L #6","x":3.5,"y":0.11},{"s":"L #6","x":3.75,"y":0.16},{"s":"L #6","x":4,"y":0.19},{"s":"L #6","x":4.25,"y":0.29},{"s":"L #6","x":4.5,"y":0.34},{"s":"L #6","x":4.75,"y":0.43},{"s":"L #6","x":5,"y":0.46},{"s":"L #6","x":5.25,"y":0.51},{"s":"L #6","x":5.5,"y":0.51},{"s":"L #6","x":5.75,"y":0.55},{"s":"L #6","x":6,"y":0.55},{"s":"L #6","x":6.25,"y":0.58},{"s":"L #6","x":6.5,"y":0.57},{"s":"L #6","x":6.75,"y":0.61},{"s":"L #6","x":7,"y":0.6},{"s":"L #6","x":7.25,"y":0.63},{"s":"L #6","x":7.5,"y":0.63},{"s":"L #6","x":7.75,"y":0.67},{"s":"L #6","x":8,"y":0.67},{"s":"L #6","x":8.25,"y":0.72},{"s":"L #6","x":8.5,"y":0.73},{"s":"L #6","x":8.75,"y":0.78},{"s":"L #6","x":9,"y":0.79},{"s":"L #6","x":9.25,"y":0.84},{"s":"L #6","x":9.5,"y":0.85},{"s":"L #6","x":9.75,"y":0.9},{"s":"L #6","x":10,"y":0.91},{"s":"L #6","x":10.25,"y":0.97},{"s":"L #6","x":10.5,"y":0.99},{"s":"L #6","x":10.75,"y":1.06},{"s":"L #6","x":11,"y":1.09},{"s":"L #6","x":11.25,"y":1.15},{"s":"L #6","x":11.5,"y":1.16},{"s":"L #6","x":11.75,"y":1.12},{"s":"L #6","x":12,"y":1.06},{"s":"L #6","x":12.25,"y":0.97},{"s":"L #6","x":12.5,"y":0.94},{"s":"L #6","x":12.75,"y":0.86},{"s":"L #6","x":13,"y":0.83},{"s":"L #6","x":13.25,"y":0.76},{"s":"L #6","x":13.5,"y":0.74},{"s":"L #6","x":13.75,"y":0.68},{"s":"L #6","x":14,"y":0.67},{"s":"L #6","x":14.25,"y":0.62},{"s":"L #6","x":14.5,"y":0.62},{"s":"L #6","x":14.75,"y":0.58},{"s":"L #6","x":15,"y":0.58},{"s":"L #6","x":15.25,"y":0.55},{"s":"L #6","x":15.5,"y":0.56},{"s":"L #6","x":15.75,"y":0.53},{"s":"L #6","x":16,"y":0.54},{"s":"L #6","x":16.25,"y":0.51},{"s":"L #6","x":16.5,"y":0.51},{"s":"L #6","x":16.75,"y":0.47},{"s":"L #6","x":17,"y":0.47},{"s":"L #6","x":17.25,"y":0.43},{"s":"L #6","x":17.5,"y":0.43},{"s":"L #6","x":17.75,"y":0.39},{"s":"L #6","x":18,"y":0.38},{"s":"L #6","x":18.25,"y":0.32},{"s":"L #6","x":18.5,"y":0.3},{"s":"L #6","x":18.75,"y":0.23},{"s":"L #6","x":19,"y":0.2},{"s":"L #6","x":19.25,"y":0.13},{"s":"L #6","x":19.5,"y":0.11},{"s":"L #6","x":19.75,"y":0.05},{"s":"L #6","x":20,"y":0.03},{"s":"L #6","x":20.25,"y":0.01},{"s":"L #6","x":20.5,"y":0},{"s":"L #6","x":21,"y":0},{"s":"L #6","x":22,"y":0},{"s":"L #6","x":23,"y":0},{"s":"L #6","x":24,"y":0}
],
"b2": [
{"s":"R #1","x":0,"y":0},{"s":"R #1","x":1,"y":0},{"s":"R #1","x":2,"y":0},{"s":"R #1","x":3,"y":0},{"s":"R #1","x":3.5,"y":0},{"s":"R #1","x":3.75,"y":0.01},{"s":"R #1","x":4,"y":0.04},{"s":"R #1","x":4.25,"y":0.11},{"s":"R #1","x":4.5,"y":0.16},{"s":"R #1","x":4.75,"y":0.24},{"s":"R #1","x":5,"y":0.27},{"s":"R #1","x":5.25,"y":0.36},{"s":"R #1","x":5.5,"y":0.51},{"s":"R #1","x":5.75,"y":0.53},{"s":"R #1","x":6,"y":0.57},{"s":"R #1","x":6.25,"y":0.57},{"s":"R #1","x":6.5,"y":0.6},{"s":"R #1","x":6.75,"y":0.59},{"s":"R #1","x":7,"y":0.62},{"s":"R #1","x":7.25,"y":0.6},{"s":"R #1","x":7.5,"y":0.63},{"s":"R #1","x":7.75,"y":0.63},{"s":"R #1","x":8,"y":0.66},{"s":"R #1","x":8.25,"y":0.65},{"s":"R #1","x":8.5,"y":0.7},{"s":"R #1","x":8.75,"y":0.7},{"s":"R #1","x":9,"y":0.74},{"s":"R #1","x":9.25,"y":0.76},{"s":"R #1","x":9.5,"y":0.81},{"s":"R #1","x":9.75,"y":0.83},{"s":"R #1","x":10,"y":0.89},{"s":"R #1","x":10.25,"y":0.89},{"s":"R #1","x":10.5,"y":0.94},{"s":"R #1","x":10.75,"y":0.94},{"s":"R #1","x":11,"y":0.99},{"s":"R #1","x":11.25,"y":0.99},{"s":"R #1","x":11.5,"y":1.04},{"s":"R #1","x":11.75,"y":1.06},{"s":"R #1","x":12,"y":1.11},{"s":"R #1","x":12.25,"y":1.07},{"s":"R #1","x":12.5,"y":1.04},{"s":"R #1","x":12.75,"y":0.97},{"s":"R #1","x":13,"y":0.93},{"s":"R #1","x":13.25,"y":0.85},{"s":"R #1","x":13.5,"y":0.81},{"s":"R #1","x":13.75,"y":0.74},{"s":"R #1","x":14,"y":0.71},{"s":"R #1","x":14.25,"y":0.64},{"s":"R #1","x":14.5,"y":0.63},{"s":"R #1","x":14.75,"y":0.59},{"s":"R #1","x":15,"y":0.59},{"s":"R #1","x":15.25,"y":0.56},{"s":"R #1","x":15.5,"y":0.57},{"s":"R #1","x":15.75,"y":0.54},{"s":"R #1","x":16,"y":0.55},{"s":"R #1","x":16.25,"y":0.52},{"s":"R #1","x":16.5,"y":0.53},{"s":"R #1","x":16.75,"y":0.51},{"s":"R #1","x":17,"y":0.51},{"s":"R #1","x":17.25,"y":0.47},{"s":"R #1","x":17.5,"y":0.47},{"s":"R #1","x":17.75,"y":0.42},{"s":"R #1","x":18,"y":0.42},{"s":"R #1","x":18.25,"y":0.38},{"s":"R #1","x":18.5,"y":0.38},{"s":"R #1","x":18.75,"y":0.33},{"s":"R #1","x":19,"y":0.31},{"s":"R #1","x":19.25,"y":0.23},{"s":"R #1","x":19.5,"y":0.18},{"s":"R #1","x":19.75,"y":0.1},{"s":"R #1","x":20,"y":0.08},{"s":"R #1","x":20.25,"y":0.04},{"s":"R #1","x":20.5,"y":0.02},{"s":"R #1","x":20.75,"y":0.01},{"s":"R #1","x":21,"y":0},{"s":"R #1","x":22,"y":0},{"s":"R #1","x":23,"y":0},{"s":"R #1","x":24,"y":0},
{"s":"R #2","x":0,"y":0},{"s":"R #2","x":1,"y":0},{"s":"R #2","x":2,"y":0},{"s":"R #2","x":3,"y":0},{"s":"R #2","x":3.5,"y":0},{"s":"R #2","x":3.75,"y":0.02},{"s":"R #2","x":4,"y":0.05},{"s":"R #2","x":4.25,"y":0.13},{"s":"R #2","x":4.5,"y":0.19},{"s":"R #2","x":4.75,"y":0.29},{"s":"R #2","x":5,"y":0.34},{"s":"R #2","x":5.25,"y":0.41},{"s":"R #2","x":5.5,"y":0.41},{"s":"R #2","x":5.75,"y":0.45},{"s":"R #2","x":6,"y":0.44},{"s":"R #2","x":6.25,"y":0.47},{"s":"R #2","x":6.5,"y":0.46},{"s":"R #2","x":6.75,"y":0.49},{"s":"R #2","x":7,"y":0.47},{"s":"R #2","x":7.25,"y":0.5},{"s":"R #2","x":7.5,"y":0.48},{"s":"R #2","x":7.75,"y":0.51},{"s":"R #2","x":8,"y":0.52},{"s":"R #2","x":8.25,"y":0.56},{"s":"R #2","x":8.5,"y":0.56},{"s":"R #2","x":8.75,"y":0.61},{"s":"R #2","x":9,"y":0.61},{"s":"R #2","x":9.25,"y":0.66},{"s":"R #2","x":9.5,"y":0.66},{"s":"R #2","x":9.75,"y":0.71},{"s":"R #2","x":10,"y":0.72},{"s":"R #2","x":10.25,"y":0.78},{"s":"R #2","x":10.5,"y":0.79},{"s":"R #2","x":10.75,"y":0.86},{"s":"R #2","x":11,"y":0.89},{"s":"R #2","x":11.25,"y":0.96},{"s":"R #2","x":11.5,"y":0.99},{"s":"R #2","x":11.75,"y":1.06},{"s":"R #2","x":12,"y":1.09},{"s":"R #2","x":12.25,"y":1.14},{"s":"R #2","x":12.5,"y":1.09},{"s":"R #2","x":12.75,"y":1.06},{"s":"R #2","x":13,"y":0.97},{"s":"R #2","x":13.25,"y":0.94},{"s":"R #2","x":13.5,"y":0.87},{"s":"R #2","x":13.75,"y":0.85},{"s":"R #2","x":14,"y":0.79},{"s":"R #2","x":14.25,"y":0.77},{"s":"R #2","x":14.5,"y":0.71},{"s":"R #2","x":14.75,"y":0.69},{"s":"R #2","x":15,"y":0.64},{"s":"R #2","x":15.25,"y":0.63},{"s":"R #2","x":15.5,"y":0.59},{"s":"R #2","x":15.75,"y":0.59},{"s":"R #2","x":16,"y":0.56},{"s":"R #2","x":16.25,"y":0.57},{"s":"R #2","x":16.5,"y":0.55},{"s":"R #2","x":16.75,"y":0.57},{"s":"R #2","x":17,"y":0.55},{"s":"R #2","x":17.25,"y":0.56},{"s":"R #2","x":17.5,"y":0.53},{"s":"R #2","x":17.75,"y":0.53},{"s":"R #2","x":18,"y":0.49},{"s":"R #2","x":18.25,"y":0.49},{"s":"R #2","x":18.5,"y":0.45},{"s":"R #2","x":18.75,"y":0.45},{"s":"R #2","x":19,"y":0.41},{"s":"R #2","x":19.25,"y":0.4},{"s":"R #2","x":19.5,"y":0.34},{"s":"R #2","x":19.75,"y":0.31},{"s":"R #2","x":20,"y":0.23},{"s":"R #2","x":20.25,"y":0.19},{"s":"R #2","x":20.5,"y":0.11},{"s":"R #2","x":20.75,"y":0.08},{"s":"R #2","x":21,"y":0.04},{"s":"R #2","x":21.25,"y":0.02},{"s":"R #2","x":21.5,"y":0.01},{"s":"R #2","x":22,"y":0},{"s":"R #2","x":23,"y":0},{"s":"R #2","x":24,"y":0},
{"s":"R #3","x":0,"y":0},{"s":"R #3","x":1,"y":0},{"s":"R #3","x":2,"y":0},{"s":"R #3","x":3,"y":0},{"s":"R #3","x":3.5,"y":0.01},{"s":"R #3","x":3.75,"y":0.04},{"s":"R #3","x":4,"y":0.1},{"s":"R #3","x":4.25,"y":0.21},{"s":"R #3","x":4.5,"y":0.29},{"s":"R #3","x":4.75,"y":0.39},{"s":"R #3","x":5,"y":0.43},{"s":"R #3","x":5.25,"y":0.47},{"s":"R #3","x":5.5,"y":0.47},{"s":"R #3","x":5.75,"y":0.51},{"s":"R #3","x":6,"y":0.5},{"s":"R #3","x":6.25,"y":0.53},{"s":"R #3","x":6.5,"y":0.52},{"s":"R #3","x":6.75,"y":0.54},{"s":"R #3","x":7,"y":0.53},{"s":"R #3","x":7.25,"y":0.56},{"s":"R #3","x":7.5,"y":0.55},{"s":"R #3","x":7.75,"y":0.57},{"s":"R #3","x":8,"y":0.56},{"s":"R #3","x":8.25,"y":0.59},{"s":"R #3","x":8.5,"y":0.59},{"s":"R #3","x":8.75,"y":0.63},{"s":"R #3","x":9,"y":0.63},{"s":"R #3","x":9.25,"y":0.67},{"s":"R #3","x":9.5,"y":0.68},{"s":"R #3","x":9.75,"y":0.73},{"s":"R #3","x":10,"y":0.75},{"s":"R #3","x":10.25,"y":0.81},{"s":"R #3","x":10.5,"y":0.83},{"s":"R #3","x":10.75,"y":0.89},{"s":"R #3","x":11,"y":0.92},{"s":"R #3","x":11.25,"y":0.99},{"s":"R #3","x":11.5,"y":1.02},{"s":"R #3","x":11.75,"y":1.09},{"s":"R #3","x":12,"y":1.11},{"s":"R #3","x":12.25,"y":1.18},{"s":"R #3","x":12.5,"y":1.14},{"s":"R #3","x":12.75,"y":1.09},{"s":"R #3","x":13,"y":0.99},{"s":"R #3","x":13.25,"y":0.95},{"s":"R #3","x":13.5,"y":0.87},{"s":"R #3","x":13.75,"y":0.84},{"s":"R #3","x":14,"y":0.77},{"s":"R #3","x":14.25,"y":0.74},{"s":"R #3","x":14.5,"y":0.68},{"s":"R #3","x":14.75,"y":0.67},{"s":"R #3","x":15,"y":0.62},{"s":"R #3","x":15.25,"y":0.62},{"s":"R #3","x":15.5,"y":0.58},{"s":"R #3","x":15.75,"y":0.58},{"s":"R #3","x":16,"y":0.55},{"s":"R #3","x":16.25,"y":0.55},{"s":"R #3","x":16.5,"y":0.51},{"s":"R #3","x":16.75,"y":0.52},{"s":"R #3","x":17,"y":0.49},{"s":"R #3","x":17.25,"y":0.49},{"s":"R #3","x":17.5,"y":0.45},{"s":"R #3","x":17.75,"y":0.46},{"s":"R #3","x":18,"y":0.43},{"s":"R #3","x":18.25,"y":0.43},{"s":"R #3","x":18.5,"y":0.4},{"s":"R #3","x":18.75,"y":0.41},{"s":"R #3","x":19,"y":0.37},{"s":"R #3","x":19.25,"y":0.37},{"s":"R #3","x":19.5,"y":0.32},{"s":"R #3","x":19.75,"y":0.3},{"s":"R #3","x":20,"y":0.23},{"s":"R #3","x":20.25,"y":0.19},{"s":"R #3","x":20.5,"y":0.12},{"s":"R #3","x":20.75,"y":0.1},{"s":"R #3","x":21,"y":0.06},{"s":"R #3","x":21.25,"y":0.05},{"s":"R #3","x":21.5,"y":0.03},{"s":"R #3","x":21.75,"y":0.02},{"s":"R #3","x":22,"y":0.02},{"s":"R #3","x":22.5,"y":0.01},{"s":"R #3","x":23,"y":0},{"s":"R #3","x":24,"y":0},
{"s":"R #4","x":0,"y":0},{"s":"R #4","x":1,"y":0},{"s":"R #4","x":2,"y":0},{"s":"R #4","x":3,"y":0},{"s":"R #4","x":3.25,"y":0.01},{"s":"R #4","x":3.5,"y":0.03},{"s":"R #4","x":3.75,"y":0.1},{"s":"R #4","x":4,"y":0.26},{"s":"R #4","x":4.25,"y":0.39},{"s":"R #4","x":4.5,"y":0.5},{"s":"R #4","x":4.75,"y":0.5},{"s":"R #4","x":5,"y":0.44},{"s":"R #4","x":5.25,"y":0.46},{"s":"R #4","x":5.5,"y":0.45},{"s":"R #4","x":5.75,"y":0.48},{"s":"R #4","x":6,"y":0.46},{"s":"R #4","x":6.25,"y":0.49},{"s":"R #4","x":6.5,"y":0.48},{"s":"R #4","x":6.75,"y":0.51},{"s":"R #4","x":7,"y":0.5},{"s":"R #4","x":7.25,"y":0.53},{"s":"R #4","x":7.5,"y":0.52},{"s":"R #4","x":7.75,"y":0.55},{"s":"R #4","x":8,"y":0.55},{"s":"R #4","x":8.25,"y":0.58},{"s":"R #4","x":8.5,"y":0.58},{"s":"R #4","x":8.75,"y":0.63},{"s":"R #4","x":9,"y":0.63},{"s":"R #4","x":9.25,"y":0.68},{"s":"R #4","x":9.5,"y":0.71},{"s":"R #4","x":9.75,"y":0.78},{"s":"R #4","x":10,"y":0.81},{"s":"R #4","x":10.25,"y":0.89},{"s":"R #4","x":10.5,"y":0.97},{"s":"R #4","x":10.75,"y":1.02},{"s":"R #4","x":11,"y":1.11},{"s":"R #4","x":11.25,"y":1.16},{"s":"R #4","x":11.5,"y":1.23},{"s":"R #4","x":11.75,"y":1.3},{"s":"R #4","x":12,"y":1.19},{"s":"R #4","x":12.25,"y":1.09},{"s":"R #4","x":12.5,"y":0.97},{"s":"R #4","x":12.75,"y":0.92},{"s":"R #4","x":13,"y":0.84},{"s":"R #4","x":13.25,"y":0.81},{"s":"R #4","x":13.5,"y":0.73},{"s":"R #4","x":13.75,"y":0.71},{"s":"R #4","x":14,"y":0.65},{"s":"R #4","x":14.25,"y":0.63},{"s":"R #4","x":14.5,"y":0.59},{"s":"R #4","x":14.75,"y":0.59},{"s":"R #4","x":15,"y":0.55},{"s":"R #4","x":15.25,"y":0.56},{"s":"R #4","x":15.5,"y":0.53},{"s":"R #4","x":15.75,"y":0.54},{"s":"R #4","x":16,"y":0.51},{"s":"R #4","x":16.25,"y":0.52},{"s":"R #4","x":16.5,"y":0.49},{"s":"R #4","x":16.75,"y":0.5},{"s":"R #4","x":17,"y":0.47},{"s":"R #4","x":17.25,"y":0.47},{"s":"R #4","x":17.5,"y":0.44},{"s":"R #4","x":17.75,"y":0.44},{"s":"R #4","x":18,"y":0.4},{"s":"R #4","x":18.25,"y":0.4},{"s":"R #4","x":18.5,"y":0.34},{"s":"R #4","x":18.75,"y":0.29},{"s":"R #4","x":19,"y":0.21},{"s":"R #4","x":19.25,"y":0.17},{"s":"R #4","x":19.5,"y":0.1},{"s":"R #4","x":19.75,"y":0.08},{"s":"R #4","x":20,"y":0.04},{"s":"R #4","x":20.25,"y":0.02},{"s":"R #4","x":20.5,"y":0.01},{"s":"R #4","x":21,"y":0},{"s":"R #4","x":22,"y":0},{"s":"R #4","x":23,"y":0},{"s":"R #4","x":24,"y":0},
{"s":"R #5","x":0,"y":0},{"s":"R #5","x":1,"y":0},{"s":"R #5","x":2,"y":0},{"s":"R #5","x":2.25,"y":0.03},{"s":"R #5","x":2.5,"y":0.05},{"s":"R #5","x":2.75,"y":0.04},{"s":"R #5","x":3,"y":0.05},{"s":"R #5","x":3.25,"y":0.03},{"s":"R #5","x":3.5,"y":0.06},{"s":"R #5","x":3.75,"y":0.12},{"s":"R #5","x":4,"y":0.21},{"s":"R #5","x":4.25,"y":0.27},{"s":"R #5","x":4.5,"y":0.35},{"s":"R #5","x":4.75,"y":0.38},{"s":"R #5","x":5,"y":0.42},{"s":"R #5","x":5.25,"y":0.41},{"s":"R #5","x":5.5,"y":0.44},{"s":"R #5","x":5.75,"y":0.43},{"s":"R #5","x":6,"y":0.45},{"s":"R #5","x":6.25,"y":0.44},{"s":"R #5","x":6.5,"y":0.47},{"s":"R #5","x":6.75,"y":0.46},{"s":"R #5","x":7,"y":0.49},{"s":"R #5","x":7.25,"y":0.48},{"s":"R #5","x":7.5,"y":0.51},{"s":"R #5","x":7.75,"y":0.5},{"s":"R #5","x":8,"y":0.53},{"s":"R #5","x":8.25,"y":0.52},{"s":"R #5","x":8.5,"y":0.56},{"s":"R #5","x":8.75,"y":0.56},{"s":"R #5","x":9,"y":0.6},{"s":"R #5","x":9.25,"y":0.6},{"s":"R #5","x":9.5,"y":0.64},{"s":"R #5","x":9.75,"y":0.65},{"s":"R #5","x":10,"y":0.69},{"s":"R #5","x":10.25,"y":0.71},{"s":"R #5","x":10.5,"y":0.76},{"s":"R #5","x":10.75,"y":0.79},{"s":"R #5","x":11,"y":0.87},{"s":"R #5","x":11.25,"y":0.89},{"s":"R #5","x":11.5,"y":0.96},{"s":"R #5","x":11.75,"y":0.99},{"s":"R #5","x":12,"y":1.07},{"s":"R #5","x":12.25,"y":1.11},{"s":"R #5","x":12.5,"y":1.2},{"s":"R #5","x":12.75,"y":1.25},{"s":"R #5","x":13,"y":1.07},{"s":"R #5","x":13.25,"y":0.93},{"s":"R #5","x":13.5,"y":0.83},{"s":"R #5","x":13.75,"y":0.79},{"s":"R #5","x":14,"y":0.71},{"s":"R #5","x":14.25,"y":0.68},{"s":"R #5","x":14.5,"y":0.62},{"s":"R #5","x":14.75,"y":0.61},{"s":"R #5","x":15,"y":0.57},{"s":"R #5","x":15.25,"y":0.57},{"s":"R #5","x":15.5,"y":0.53},{"s":"R #5","x":15.75,"y":0.53},{"s":"R #5","x":16,"y":0.49},{"s":"R #5","x":16.25,"y":0.49},{"s":"R #5","x":16.5,"y":0.45},{"s":"R #5","x":16.75,"y":0.45},{"s":"R #5","x":17,"y":0.42},{"s":"R #5","x":17.25,"y":0.43},{"s":"R #5","x":17.5,"y":0.41},{"s":"R #5","x":17.75,"y":0.42},{"s":"R #5","x":18,"y":0.4},{"s":"R #5","x":18.25,"y":0.41},{"s":"R #5","x":18.5,"y":0.39},{"s":"R #5","x":18.75,"y":0.4},{"s":"R #5","x":19,"y":0.37},{"s":"R #5","x":19.25,"y":0.39},{"s":"R #5","x":19.5,"y":0.35},{"s":"R #5","x":19.75,"y":0.35},{"s":"R #5","x":20,"y":0.3},{"s":"R #5","x":20.25,"y":0.27},{"s":"R #5","x":20.5,"y":0.19},{"s":"R #5","x":20.75,"y":0.15},{"s":"R #5","x":21,"y":0.08},{"s":"R #5","x":21.25,"y":0.06},{"s":"R #5","x":21.5,"y":0.03},{"s":"R #5","x":21.75,"y":0.02},{"s":"R #5","x":22,"y":0.01},{"s":"R #5","x":22.5,"y":0},{"s":"R #5","x":23,"y":0},{"s":"R #5","x":24,"y":0},
{"s":"R #6","x":0,"y":0},{"s":"R #6","x":1,"y":0},{"s":"R #6","x":2,"y":0},{"s":"R #6","x":3,"y":0},{"s":"R #6","x":3.25,"y":0.01},{"s":"R #6","x":3.5,"y":0.06},{"s":"R #6","x":3.75,"y":0.11},{"s":"R #6","x":4,"y":0.23},{"s":"R #6","x":4.25,"y":0.29},{"s":"R #6","x":4.5,"y":0.37},{"s":"R #6","x":4.75,"y":0.38},{"s":"R #6","x":5,"y":0.42},{"s":"R #6","x":5.25,"y":0.41},{"s":"R #6","x":5.5,"y":0.44},{"s":"R #6","x":5.75,"y":0.43},{"s":"R #6","x":6,"y":0.45},{"s":"R #6","x":6.25,"y":0.44},{"s":"R #6","x":6.5,"y":0.47},{"s":"R #6","x":6.75,"y":0.46},{"s":"R #6","x":7,"y":0.49},{"s":"R #6","x":7.25,"y":0.49},{"s":"R #6","x":7.5,"y":0.52},{"s":"R #6","x":7.75,"y":0.51},{"s":"R #6","x":8,"y":0.55},{"s":"R #6","x":8.25,"y":0.54},{"s":"R #6","x":8.5,"y":0.58},{"s":"R #6","x":8.75,"y":0.58},{"s":"R #6","x":9,"y":0.63},{"s":"R #6","x":9.25,"y":0.64},{"s":"R #6","x":9.5,"y":0.69},{"s":"R #6","x":9.75,"y":0.71},{"s":"R #6","x":10,"y":0.76},{"s":"R #6","x":10.25,"y":0.78},{"s":"R #6","x":10.5,"y":0.84},{"s":"R #6","x":10.75,"y":0.87},{"s":"R #6","x":11,"y":0.94},{"s":"R #6","x":11.25,"y":0.98},{"s":"R #6","x":11.5,"y":1.06},{"s":"R #6","x":11.75,"y":1.11},{"s":"R #6","x":12,"y":1.21},{"s":"R #6","x":12.25,"y":1.27},{"s":"R #6","x":12.5,"y":1.13},{"s":"R #6","x":12.75,"y":1.04},{"s":"R #6","x":13,"y":0.94},{"s":"R #6","x":13.25,"y":0.89},{"s":"R #6","x":13.5,"y":0.81},{"s":"R #6","x":13.75,"y":0.78},{"s":"R #6","x":14,"y":0.72},{"s":"R #6","x":14.25,"y":0.7},{"s":"R #6","x":14.5,"y":0.65},{"s":"R #6","x":14.75,"y":0.64},{"s":"R #6","x":15,"y":0.6},{"s":"R #6","x":15.25,"y":0.6},{"s":"R #6","x":15.5,"y":0.56},{"s":"R #6","x":15.75,"y":0.56},{"s":"R #6","x":16,"y":0.52},{"s":"R #6","x":16.25,"y":0.53},{"s":"R #6","x":16.5,"y":0.49},{"s":"R #6","x":16.75,"y":0.5},{"s":"R #6","x":17,"y":0.47},{"s":"R #6","x":17.25,"y":0.47},{"s":"R #6","x":17.5,"y":0.44},{"s":"R #6","x":17.75,"y":0.44},{"s":"R #6","x":18,"y":0.41},{"s":"R #6","x":18.25,"y":0.42},{"s":"R #6","x":18.5,"y":0.39},{"s":"R #6","x":18.75,"y":0.38},{"s":"R #6","x":19,"y":0.33},{"s":"R #6","x":19.25,"y":0.31},{"s":"R #6","x":19.5,"y":0.25},{"s":"R #6","x":19.75,"y":0.21},{"s":"R #6","x":20,"y":0.13},{"s":"R #6","x":20.25,"y":0.1},{"s":"R #6","x":20.5,"y":0.04},{"s":"R #6","x":20.75,"y":0.03},{"s":"R #6","x":21,"y":0.01},{"s":"R #6","x":21.5,"y":0},{"s":"R #6","x":22,"y":0},{"s":"R #6","x":23,"y":0},{"s":"R #6","x":24,"y":0}
]
},
"concat": [
  {"width": 329, "height": 254,
   "layer": [
    {"data": {"name": "a1"}, "mark": {"type": "line", "strokeWidth": 6},
     "encoding": {
      "x": {"field": "x", "type": "quantitative", "scale": {"domain": [0, 25], "nice": false, "zero": false},
            "axis": {"orient": "bottom", "values": [0,2.5,5,7.5,10,12.5,15,17.5,20,22.5,25], "labelExpr": "datum.value % 5 == 0 && datum.value < 25 ? format(datum.value, 'd') : ''", "tickSize": {"condition": {"test": "datum.value % 5 == 0", "value": -5}, "value": -3}, "labelPadding": 11, "title": null}},
      "y": {"field": "y", "type": "quantitative", "scale": {"domain": [0, 110], "nice": false, "zero": false},
            "axis": {"orient": "left", "values": [10,20,30,40,50,60,70,80,90,100], "labelExpr": "datum.value % 20 == 0 ? format(datum.value, 'd') : ''", "tickSize": {"condition": {"test": "datum.value % 20 == 0", "value": 5}, "value": 3}, "labelPadding": 2, "title": "c-DVH, percentage of volume (%)", "titlePadding": 3}},
      "stroke": {"field": "s", "type": "nominal", "scale": {"domain": ["L #1","L #2","L #3","L #4","L #5","L #6"], "range": ["#000000","#ff0000","#00ee00","#0000ff","#00ffff","#ff00ff"]}, "legend": {"orient": "none", "legendX": 217, "legendY": 28, "title": null, "rowPadding": 1.4}}
     }},
    {"data": {"name": "a1"}, "mark": {"type": "point", "filled": true, "size": 40, "opacity": 1},
     "encoding": {
      "x": {"field": "x", "type": "quantitative", "axis": null},
      "y": {"field": "y", "type": "quantitative", "axis": null},
      "color": {"field": "s", "type": "nominal", "scale": {"domain": ["L #1","L #2","L #3","L #4","L #5","L #6"], "range": ["#000000","#ff0000","#00ee00","#0000ff","#00ffff","#ff00ff"]}, "legend": {"orient": "none", "legendX": 217, "legendY": 28, "title": null, "rowPadding": 1.4}},
      "shape": {"field": "s", "type": "nominal", "scale": {"domain": ["L #1","L #2","L #3","L #4","L #5","L #6"], "range": ["square","circle","triangle-up","triangle-down","diamond","triangle-left"]}, "legend": {"orient": "none", "legendX": 217, "legendY": 28, "title": null, "rowPadding": 1.4}}
     }},
    {"data": {"values": [{"x": 5.55, "y": 46.3, "t": "(a1)"}]}, "mark": {"type": "text", "fontSize": 18, "fontWeight": "bold", "color": "#111"},
     "encoding": {
      "x": {"field": "x", "type": "quantitative", "axis": {"orient": "top", "values": [0,2.5,5,7.5,10,12.5,15,17.5,20,22.5,25], "labels": false, "tickSize": {"condition": {"test": "datum.value % 5 == 0", "value": -5}, "value": -3}, "title": null}},
      "y": {"field": "y", "type": "quantitative", "axis": {"orient": "right", "values": [10,20,30,40,50,60,70,80,90,100], "labels": false, "tickSize": {"condition": {"test": "datum.value % 20 == 0", "value": -5}, "value": -3}, "title": null}},
      "text": {"field": "t"}
     }}
   ]},
  {"width": 329, "height": 254,
   "layer": [
    {"data": {"name": "b1"}, "mark": {"type": "line", "strokeWidth": 6},
     "encoding": {
      "x": {"field": "x", "type": "quantitative", "scale": {"domain": [0, 25], "nice": false, "zero": false},
            "axis": {"orient": "bottom", "values": [0,2.5,5,7.5,10,12.5,15,17.5,20,22.5,25], "labelExpr": "datum.value % 5 == 0 ? format(datum.value, 'd') : ''", "tickSize": {"condition": {"test": "datum.value % 5 == 0", "value": -5}, "value": -3}, "labelPadding": 11, "title": null}},
      "y": {"field": "y", "type": "quantitative", "scale": {"domain": [0, 110], "nice": false, "zero": false},
            "axis": {"orient": "left", "values": [10,20,30,40,50,60,70,80,90,100], "labelExpr": "datum.value % 20 == 0 ? format(datum.value, 'd') : ''", "tickSize": {"condition": {"test": "datum.value % 20 == 0", "value": 5}, "value": 3}, "labelPadding": 2, "title": null}},
      "stroke": {"field": "s", "type": "nominal", "scale": {"domain": ["R #1","R #2","R #3","R #4","R #5","R #6"], "range": ["#000000","#ff0000","#00ee00","#0000ff","#00ffff","#ff00ff"]}, "legend": {"orient": "none", "legendX": 248, "legendY": 35, "title": null, "rowPadding": 1.4}}
     }},
    {"data": {"name": "b1"}, "mark": {"type": "point", "filled": true, "size": 40, "opacity": 1},
     "encoding": {
      "x": {"field": "x", "type": "quantitative", "axis": null},
      "y": {"field": "y", "type": "quantitative", "axis": null},
      "color": {"field": "s", "type": "nominal", "scale": {"domain": ["R #1","R #2","R #3","R #4","R #5","R #6"], "range": ["#000000","#ff0000","#00ee00","#0000ff","#00ffff","#ff00ff"]}, "legend": {"orient": "none", "legendX": 248, "legendY": 35, "title": null, "rowPadding": 1.4}},
      "shape": {"field": "s", "type": "nominal", "scale": {"domain": ["R #1","R #2","R #3","R #4","R #5","R #6"], "range": ["square","circle","triangle-up","triangle-down","diamond","triangle-left"]}, "legend": {"orient": "none", "legendX": 248, "legendY": 35, "title": null, "rowPadding": 1.4}}
     }},
    {"data": {"values": [{"x": 5.09, "y": 46.3, "t": "(b1)"}]}, "mark": {"type": "text", "fontSize": 18, "fontWeight": "bold", "color": "#111"},
     "encoding": {
      "x": {"field": "x", "type": "quantitative", "axis": {"orient": "top", "values": [0,2.5,5,7.5,10,12.5,15,17.5,20,22.5,25], "labels": false, "tickSize": {"condition": {"test": "datum.value % 5 == 0", "value": -5}, "value": -3}, "title": null}},
      "y": {"field": "y", "type": "quantitative", "axis": {"orient": "right", "values": [10,20,30,40,50,60,70,80,90,100], "labels": false, "tickSize": {"condition": {"test": "datum.value % 20 == 0", "value": -5}, "value": -3}, "title": null}},
      "text": {"field": "t"}
     }}
   ]},
  {"width": 329, "height": 253,
   "layer": [
    {"data": {"name": "a2"}, "mark": {"type": "line", "strokeWidth": 1, "opacity": 0.5},
     "encoding": {
      "x": {"field": "x", "type": "quantitative", "scale": {"domain": [0, 25], "nice": false, "zero": false},
            "axis": {"orient": "bottom", "values": [0,2.5,5,7.5,10,12.5,15,17.5,20,22.5,25], "labelExpr": "datum.value % 5 == 0 ? format(datum.value, 'd') : ''", "tickSize": {"condition": {"test": "datum.value % 5 == 0", "value": -5}, "value": -3}, "labelPadding": 11, "title": "Dose (Gy)", "titlePadding": 5}},
      "y": {"field": "y", "type": "quantitative", "scale": {"domain": [0, 1.31], "nice": false, "zero": false},
            "axis": {"orient": "left", "values": [0,0.1,0.2,0.3,0.4,0.5,0.6,0.7,0.8,0.9,1.0,1.1,1.2], "labelExpr": "round(datum.value*10) % 2 == 0 ? format(datum.value, '.1f') : ''", "tickSize": {"condition": {"test": "round(datum.value*10) % 2 == 0", "value": 5}, "value": 3}, "labelPadding": 2, "title": "d-DVH, percenate of volume (%)", "titlePadding": 6}},
      "stroke": {"field": "s", "type": "nominal", "scale": {"domain": ["L #1","L #2","L #3","L #4","L #5","L #6"], "range": ["#000000","#ff0000","#00ee00","#0000ff","#00ffff","#ff00ff"]}, "legend": {"orient": "none", "legendX": 223, "legendY": 25, "title": null}}
     }},
    {"data": {"name": "a2"}, "mark": {"type": "point", "filled": true, "size": 36, "opacity": 1},
     "encoding": {
      "x": {"field": "x", "type": "quantitative", "axis": null},
      "y": {"field": "y", "type": "quantitative", "axis": null},
      "color": {"field": "s", "type": "nominal", "scale": {"domain": ["L #1","L #2","L #3","L #4","L #5","L #6"], "range": ["#000000","#ff0000","#00ee00","#0000ff","#00ffff","#ff00ff"]}, "legend": {"orient": "none", "legendX": 223, "legendY": 25, "title": null}},
      "shape": {"field": "s", "type": "nominal", "scale": {"domain": ["L #1","L #2","L #3","L #4","L #5","L #6"], "range": ["square","circle","triangle-up","triangle-down","diamond","triangle-left"]}, "legend": {"orient": "none", "legendX": 223, "legendY": 25, "title": null}}
     }},
    {"data": {"values": [{"x": 5.55, "y": 0.99, "t": "(a2)"}]}, "mark": {"type": "text", "fontSize": 18, "fontWeight": "bold", "color": "#111"},
     "encoding": {
      "x": {"field": "x", "type": "quantitative", "axis": {"orient": "top", "values": [0,2.5,5,7.5,10,12.5,15,17.5,20,22.5,25], "labels": false, "tickSize": {"condition": {"test": "datum.value % 5 == 0", "value": -5}, "value": -3}, "title": null}},
      "y": {"field": "y", "type": "quantitative", "axis": {"orient": "right", "values": [0.1,0.2,0.3,0.4,0.5,0.6,0.7,0.8,0.9,1.0,1.1,1.2], "labels": false, "tickSize": {"condition": {"test": "round(datum.value*10) % 2 == 0", "value": -5}, "value": -3}, "title": null}},
      "text": {"field": "t"}
     }}
   ]},
  {"width": 329, "height": 253,
   "layer": [
    {"data": {"name": "b2"}, "mark": {"type": "line", "strokeWidth": 1, "opacity": 0.5},
     "encoding": {
      "x": {"field": "x", "type": "quantitative", "scale": {"domain": [0, 25], "nice": false, "zero": false},
            "axis": {"orient": "bottom", "values": [0,2.5,5,7.5,10,12.5,15,17.5,20,22.5,25], "labelExpr": "datum.value % 5 == 0 && datum.value > 0 ? format(datum.value, 'd') : ''", "tickSize": {"condition": {"test": "datum.value % 5 == 0", "value": -5}, "value": -3}, "labelPadding": 11, "title": "Dose (Gy)", "titlePadding": 5}},
      "y": {"field": "y", "type": "quantitative", "scale": {"domain": [0, 1.4], "nice": false, "zero": false},
            "axis": {"orient": "left", "values": [0,0.1,0.2,0.3,0.4,0.5,0.6,0.7,0.8,0.9,1.0,1.1,1.2,1.3,1.4], "labelExpr": "round(datum.value*10) % 2 == 0 ? format(datum.value, '.1f') : ''", "tickSize": {"condition": {"test": "round(datum.value*10) % 2 == 0", "value": 5}, "value": 3}, "labelPadding": 2, "title": null}},
      "stroke": {"field": "s", "type": "nominal", "scale": {"domain": ["R #1","R #2","R #3","R #4","R #5","R #6"], "range": ["#000000","#ff0000","#00ee00","#0000ff","#00ffff","#ff00ff"]}, "legend": {"orient": "none", "legendX": 251, "legendY": 47, "title": null}}
     }},
    {"data": {"name": "b2"}, "mark": {"type": "point", "filled": true, "size": 36, "opacity": 1},
     "encoding": {
      "x": {"field": "x", "type": "quantitative", "axis": null},
      "y": {"field": "y", "type": "quantitative", "axis": null},
      "color": {"field": "s", "type": "nominal", "scale": {"domain": ["R #1","R #2","R #3","R #4","R #5","R #6"], "range": ["#000000","#ff0000","#00ee00","#0000ff","#00ffff","#ff00ff"]}, "legend": {"orient": "none", "legendX": 251, "legendY": 47, "title": null}},
      "shape": {"field": "s", "type": "nominal", "scale": {"domain": ["R #1","R #2","R #3","R #4","R #5","R #6"], "range": ["square","circle","triangle-up","triangle-down","diamond","triangle-left"]}, "legend": {"orient": "none", "legendX": 251, "legendY": 47, "title": null}}
     }},
    {"data": {"values": [{"x": 5.09, "y": 1.05, "t": "(b2)"}]}, "mark": {"type": "text", "fontSize": 18, "fontWeight": "bold", "color": "#111"},
     "encoding": {
      "x": {"field": "x", "type": "quantitative", "axis": {"orient": "top", "values": [0,2.5,5,7.5,10,12.5,15,17.5,20,22.5,25], "labels": false, "tickSize": {"condition": {"test": "datum.value % 5 == 0", "value": -5}, "value": -3}, "title": null}},
      "y": {"field": "y", "type": "quantitative", "axis": {"orient": "right", "values": [0.1,0.2,0.3,0.4,0.5,0.6,0.7,0.8,0.9,1.0,1.1,1.2,1.3], "labels": false, "tickSize": {"condition": {"test": "round(datum.value*10) % 2 == 0", "value": -5}, "value": -3}, "title": null}},
      "text": {"field": "t"}
     }}
   ]}
],
"columns": 2,
"spacing": 0,
"bounds": "flush",
"resolve": {"scale": {"color": "independent", "shape": "independent", "stroke": "independent"}, "legend": {"color": "independent", "shape": "independent", "stroke": "independent"}}
}
